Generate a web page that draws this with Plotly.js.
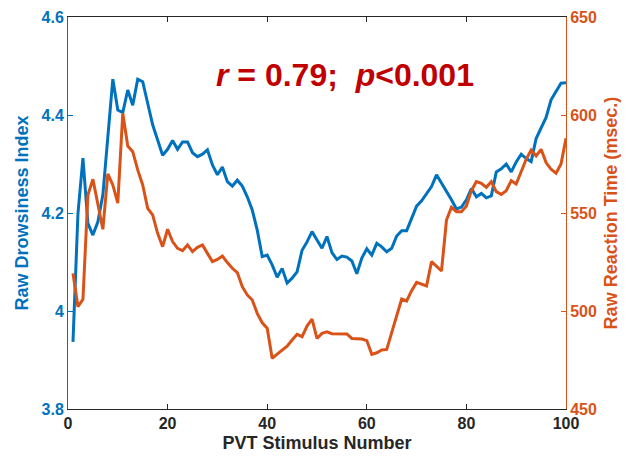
<!DOCTYPE html>
<html>
<head>
<meta charset="utf-8">
<script src="https://cdn.plot.ly/plotly-3.0.1.min.js"></script>
<style>html,body{margin:0;padding:0;background:#fff;}#chart{width:633px;height:463px;}</style>
</head>
<body>
<div id="chart"></div>
<script>
var stimulus = [];
for (var k = 1; k <= 100; k++) stimulus.push(k);

var drowsiness = [
  3.937, 4.199, 4.312, 4.179, 4.155, 4.182, 4.237, 4.350, 4.473, 4.410,
  4.405, 4.451, 4.420, 4.473, 4.468, 4.424, 4.380, 4.349, 4.318, 4.330,
  4.348, 4.330, 4.345, 4.345, 4.323, 4.315, 4.320, 4.329, 4.298, 4.278,
  4.294, 4.264, 4.255, 4.267, 4.255, 4.233, 4.206, 4.165, 4.111, 4.114,
  4.094, 4.069, 4.087, 4.057, 4.067, 4.080, 4.124, 4.141, 4.162, 4.145,
  4.128, 4.152, 4.119, 4.105, 4.112, 4.110, 4.102, 4.076, 4.108, 4.127,
  4.114, 4.138, 4.131, 4.121, 4.128, 4.153, 4.164, 4.164, 4.189, 4.214,
  4.225, 4.240, 4.254, 4.278, 4.261, 4.246, 4.227, 4.208, 4.212, 4.227,
  4.250, 4.233, 4.240, 4.231, 4.235, 4.284, 4.290, 4.300, 4.284, 4.304,
  4.320, 4.311, 4.305, 4.352, 4.375, 4.395, 4.431, 4.448, 4.465, 4.466
];

var reactionTime = [
  519.2, 502.2, 506.0, 559.2, 567.2, 554.0, 541.7, 570.0, 564.3, 555.0,
  600.9, 584.2, 581.3, 572.0, 564.3, 552.4, 549.0, 539.6, 532.8, 541.7,
  535.4, 532.0, 530.8, 533.7, 530.3, 532.5, 533.7, 529.4, 525.2, 526.3,
  528.0, 524.7, 521.8, 519.6, 512.4, 508.2, 505.6, 498.8, 494.0, 491.2,
  475.9, 478.0, 480.1, 482.1, 485.2, 488.1, 486.9, 492.3, 495.8, 486.0,
  488.6, 489.4, 488.4, 488.3, 488.3, 488.3, 486.0, 486.0, 485.7, 484.9,
  477.9, 478.7, 480.1, 480.4, 488.6, 497.5, 506.1, 505.1, 510.4, 514.6,
  513.6, 512.8, 525.2, 522.6, 520.4, 546.4, 552.9, 550.7, 550.7, 553.6,
  561.4, 566.0, 565.1, 563.1, 566.0, 560.9, 559.5, 561.4, 566.5, 564.8,
  571.1, 577.4, 582.1, 579.1, 582.5, 575.7, 572.3, 570.3, 575.0, 588.1
];

var xTicks = [0, 20, 40, 60, 80, 100];
var leftTicks = [3.8, 4, 4.2, 4.4, 4.6];
var leftTickText = ['3.8', '4', '4.2', '4.4', '4.6'];
var rightTicks = [450, 500, 550, 600, 650];

var blue = '#0072BD';
var orange = '#D95319';
var fam = 'Liberation Sans Narrow, Liberation Sans, Arial';

var traces = [
  {x: stimulus, y: drowsiness, type: 'scatter', mode: 'lines', yaxis: 'y',
   line: {color: blue, width: 3}, hoverinfo: 'skip'},
  {x: stimulus, y: reactionTime, type: 'scatter', mode: 'lines', yaxis: 'y2',
   line: {color: orange, width: 3}, hoverinfo: 'skip'}
];

var layout = {
  width: 633, height: 463,
  margin: {l: 68, r: 67, t: 17, b: 54, pad: 0},
  paper_bgcolor: '#ffffff', plot_bgcolor: '#ffffff',
  showlegend: false,
  xaxis: {
    range: [0, 100], tickvals: xTicks, ticktext: xTicks.map(String),
    showgrid: false, zeroline: false, showline: true, linecolor: '#262626', linewidth: 1,
    mirror: 'ticks', ticks: 'inside', ticklen: 5, tickcolor: '#262626',
    tickfont: {family: fam, size: 16, color: '#262626', weight: 'bold'},
    title: {text: '<b>PVT Stimulus Number</b>', font: {family: fam, size: 18, color: '#262626'}, standoff: 5}
  },
  yaxis: {
    range: [3.8, 4.6], tickvals: leftTicks, ticktext: leftTickText,
    showgrid: false, zeroline: false, showline: true, linecolor: blue, linewidth: 1,
    ticks: 'inside', ticklen: 5, tickcolor: blue,
    tickfont: {family: fam, size: 16, color: blue, weight: 'bold'},
    title: {text: '<b>Raw Drowsiness Index</b>', font: {family: fam, size: 18, color: blue}, standoff: 8}
  },
  yaxis2: {
    range: [450, 650], tickvals: rightTicks, ticktext: rightTicks.map(String),
    overlaying: 'y', side: 'right', anchor: 'x',
    showgrid: false, zeroline: false, showline: true, linecolor: orange, linewidth: 1,
    ticks: 'inside', ticklen: 5, tickcolor: orange,
    tickfont: {family: fam, size: 16, color: orange, weight: 'bold'},
    title: {text: '<b>Raw Reaction Time (msec.)</b>', font: {family: fam, size: 18, color: orange}, standoff: 8}
  },
  annotations: [{
    xref: 'paper', yref: 'paper', x: 0.556, y: 0.852, xanchor: 'center', yanchor: 'middle',
    showarrow: false,
    text: '<b><i>r</i> = 0.79;\u00a0\u00a0<i>p</i>&lt;0.001</b>',
    font: {family: 'Liberation Sans, Arial', size: 32, color: '#C00000'}
  }]
};

Plotly.newPlot('chart', traces, layout, {displayModeBar: false, staticPlot: true});
</script>
</body>
</html>
